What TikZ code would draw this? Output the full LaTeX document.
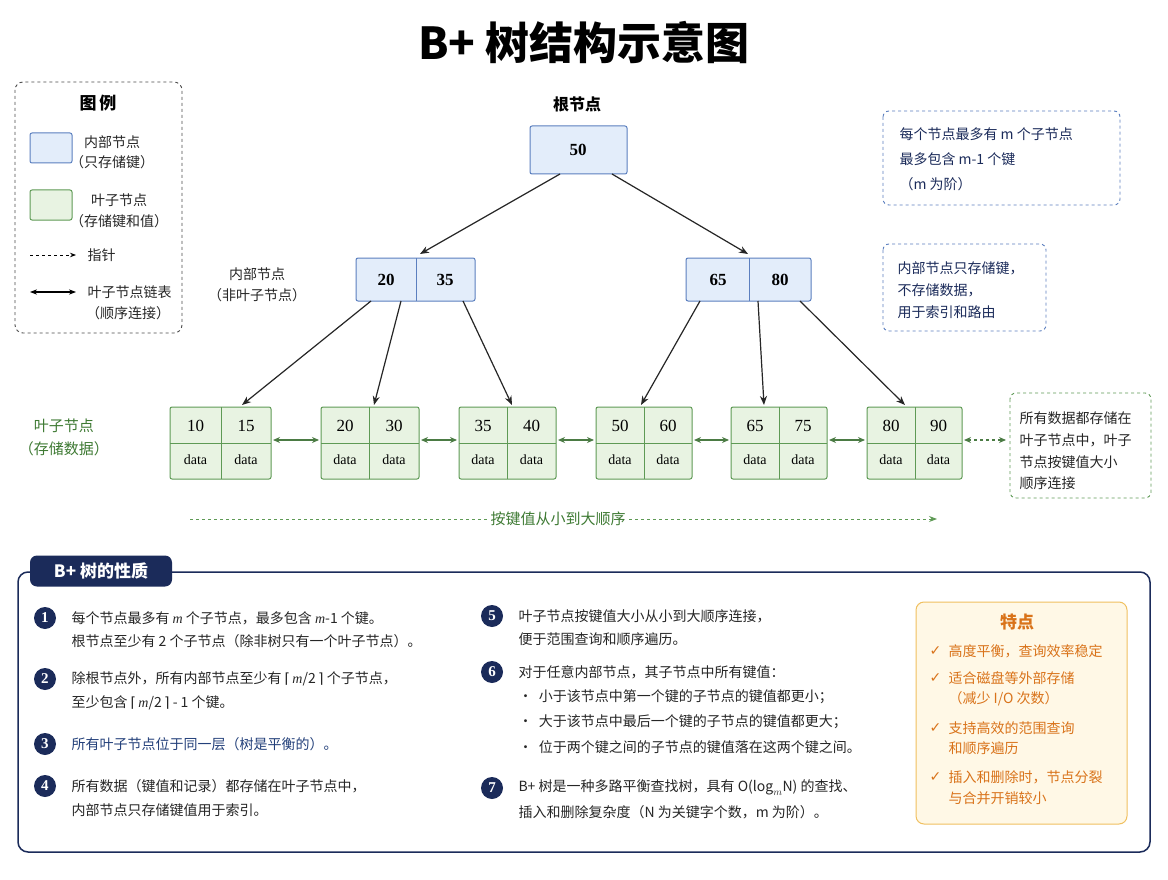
\documentclass[tikz,border=0pt]{standalone}
\usepackage{fontspec}
\setmainfont{Noto Sans CJK SC}
\newfontfamily\serifnum{Liberation Serif}
\newfontfamily\dejavu{DejaVu Sans}
\usetikzlibrary{arrows.meta}
\definecolor{bfill}{HTML}{E3EDFA}
\definecolor{bdraw}{HTML}{5B7FBF}
\definecolor{gfill}{HTML}{E8F3E2}
\definecolor{gdraw}{HTML}{5E9A55}
\definecolor{gtext}{HTML}{3E7A33}
\definecolor{navy}{HTML}{1B2B5A}
\definecolor{otext}{HTML}{D9731A}
\definecolor{ofill}{HTML}{FFF8E6}
\definecolor{odraw}{HTML}{F0C060}
\definecolor{itemblue}{HTML}{23407A}
\newcommand{\mi}{{\serifnum\itshape m}}
\newcommand{\lc}{{\dejavu ⌈}}
\newcommand{\rc}{{\dejavu ⌉}}
\begin{document}
\begin{tikzpicture}[x=1pt,y=-1pt,
  txt/.style={font=\fontsize{14}{16}\selectfont, text=black!85},
  lt/.style={txt,anchor=west},
  key/.style={font=\serifnum\fontsize{17}{19}\selectfont\bfseries},
  dat/.style={font=\serifnum\fontsize{14}{16}\selectfont},
  ib/.style={draw=bdraw,fill=bfill,line width=1pt,rounded corners=2pt},
  lb/.style={draw=gdraw,fill=gfill,line width=1pt,rounded corners=2pt},
  ptr/.style={-{Stealth[length=9pt,width=7pt]},line width=1.2pt,black!85},
  link/.style={{Stealth[length=7pt,width=6pt]}-{Stealth[length=7pt,width=6pt]},line width=1.4pt,gdraw!80!black},
  num/.style={circle,fill=navy,text=white,inner sep=0pt,minimum size=22pt,font=\serifnum\fontsize{15}{15}\selectfont\bfseries},
  chk/.style={anchor=west,text=otext,font=\dejavu\fontsize{14}{16}\selectfont}
]
\useasboundingbox (0,0) rectangle (1168,880);
\fill[white] (0,0) rectangle (1168,880);
% title
\node[font=\fontsize{44}{48}\selectfont\bfseries] (title) at (584,42) {B+ 树结构示意图};
% legend
\draw[dashed,line width=0.9pt,black!70,rounded corners=8pt] (15,82) rectangle (182,333);
\node[font=\fontsize{17}{19}\selectfont\bfseries] (lgt) at (98,103) {图\,例};
\draw[ib] (30,133) rectangle (72,163);
\node[txt] (l1a) at (112,142) {内部节点};
\node[txt] (l1b) at (112,162) {（只存储键）};
\draw[lb] (30,190) rectangle (72,220);
\node[txt] (l2a) at (119,200) {叶子节点};
\node[txt] (l2b) at (119,221) {（存储键和值）};
\coordinate (pa) at (30,255); \coordinate (pb) at (76,255);
\draw[dashed,-{Stealth[length=6pt]},line width=0.9pt] (pa) -- (pb);
\node[lt] (l3) at (84,255) {指针};
\coordinate (da) at (30,292); \coordinate (db) at (76,292);
\draw[{Stealth[length=7pt]}-{Stealth[length=7pt]},line width=1.2pt] (da) -- (db);
\node[lt] (l4a) at (84,292) {叶子节点链表};
\node[txt] (l4b) at (128,313) {（顺序连接）};
% root
\node[font=\fontsize{16}{18}\selectfont\bfseries] (rootl) at (577,104) {根节点};
\draw[ib] (530,126) rectangle (627,174);
\node[key] (root) at (578,150) {50};
% internal nodes
\draw[ib] (356,258) rectangle (475,301); \draw[bdraw,line width=1pt] (416,258) -- (416,301);
\node[key] (i20) at (386,280) {20}; \node[key] (i35) at (445,280) {35};
\draw[ib] (686,258) rectangle (811,301); \draw[bdraw,line width=1pt] (749,258) -- (749,301);
\node[key] (i65) at (718,280) {65}; \node[key] (i80) at (780,280) {80};
\node[txt] (inl1) at (257,274) {内部节点};
\node[txt] (inl2) at (257,295) {（非叶子节点）};
% leaves
\foreach \n/\a/\m/\b/\ka/\kb in {1/170/221/271/10/15, 2/321/369/419/20/30, 3/459/507/556/35/40, 4/596/644/692/50/60, 5/731/779/827/65/75, 6/867/915/962/80/90}{
  \draw[lb] (\a,407) rectangle (\b,479);
  \draw[gdraw,line width=1pt] (\a,443) -- (\b,443) (\m,407) -- (\m,479);
  \node[key,font=\serifnum\fontsize{17}{19}\selectfont] (k\n a) at ({(\a+\m)/2},426) {\ka};
  \node[key,font=\serifnum\fontsize{17}{19}\selectfont] (k\n b) at ({(\m+\b)/2},426) {\kb};
  \node[dat] (d\n a) at ({(\a+\m)/2},460) {data};
  \node[dat] (d\n b) at ({(\m+\b)/2},460) {data};
  \coordinate (leaf\n W) at (\a,440);
  \coordinate (leaf\n E) at (\b,440);
}
\foreach \i/\j in {1/2,2/3,3/4,4/5,5/6}{
  \draw[link,shorten <=2pt,shorten >=2pt] (leaf\i E) -- (leaf\j W);
}
\coordinate (lend) at (1006,440);
\draw[link,dashed,shorten <=2pt] (leaf6E) -- (lend);
\node[txt,text=gtext,font=\fontsize{15}{17}\selectfont] (lfl1) at (64,426) {叶子节点};
\node[txt,text=gtext,font=\fontsize{15}{17}\selectfont] (lfl2) at (64,449) {（存储数据）};
% pointers
\coordinate (r1) at (560,174); \coordinate (r2) at (612,174);
\coordinate (c1) at (420,254); \coordinate (c2) at (748,254);
\draw[ptr] (r1) -- (c1); \draw[ptr] (r2) -- (c2);
\foreach \s/\t [count=\q] in {371/242,401/374,463/512,700/641,758/764,800/905}{
  \coordinate (ps\q) at (\s,301); \coordinate (pt\q) at (\t,405);
  \draw[ptr] (ps\q) -- (pt\q);
}
% notes
\draw[dashed,bdraw,line width=0.9pt,rounded corners=6pt] (883,111) rectangle (1120,205);
\node[lt,text=navy] (n1a) at (896,134) {每个节点最多有 m 个子节点};
\node[lt,text=navy] (n1b) at (896,159) {最多包含 m-1 个键};
\node[lt,text=navy] (n1c) at (896,184) {（m 为阶）};
\draw[dashed,bdraw,line width=0.9pt,rounded corners=6pt] (883,244) rectangle (1046,331);
\node[lt,text=navy] (n2a) at (894,268) {内部节点只存储键，};
\node[lt,text=navy] (n2b) at (894,290) {不存储数据，};
\node[lt,text=navy] (n2c) at (894,312) {用于索引和路由};
\draw[dashed,gdraw,line width=0.9pt,rounded corners=6pt] (1010,393) rectangle (1151,498);
\node[lt] (n3a) at (1016,418) {所有数据都存储在};
\node[lt] (n3b) at (1016,440) {叶子节点中，叶子};
\node[lt] (n3c) at (1016,462) {节点按键值大小};
\node[lt] (n3d) at (1016,483) {顺序连接};
% order arrow
\node[txt,text=gtext,font=\fontsize{15}{17}\selectfont] (ord) at (558,519) {按键值从小到大顺序};
\coordinate (oa) at (190,519); \coordinate (ob) at (937,519);
\draw[dashed,gdraw,line width=1pt] (oa) -- (ord.west);
\draw[dashed,gdraw,line width=1pt,-{Stealth[length=8pt]}] (ord.east) -- (ob);
% properties box
\draw[navy,line width=1.5pt,rounded corners=10pt] (18,572) rectangle (1150,852);
\node[fill=navy,text=white,rounded corners=7pt,minimum width=142pt,minimum height=31pt,font=\fontsize{17}{19}\selectfont\bfseries] (ptab) at (101,571) {B+ 树的性质};
% left column
\node[num] (c1n) at (45,618) {1};
\node[lt] (t1a) at (68,618) {每个节点最多有 \mi\ 个子节点，最多包含 \mi-1 个键。};
\node[lt] (t1b) at (68,641) {根节点至少有 2 个子节点（除非树只有一个叶子节点）。};
\node[num] (c2n) at (45,679) {2};
\node[lt] (t2a) at (68,679) {除根节点外，所有内部节点至少有 \lc\,\mi/2\,\rc\ 个子节点，};
\node[lt] (t2b) at (68,703) {至少包含 \lc\,\mi/2\,\rc\ - 1 个键。};
\node[num] (c3n) at (45,744) {3};
\node[lt,text=itemblue] (t3) at (68,744) {所有叶子节点位于同一层（树是平衡的）。};
\node[num] (c4n) at (45,786) {4};
\node[lt] (t4a) at (68,786) {所有数据（键值和记录）都存储在叶子节点中，};
\node[lt] (t4b) at (68,810) {内部节点只存储键值用于索引。};
% right column
\node[num] (c5n) at (492,616) {5};
\node[lt] (t5a) at (515,616) {叶子节点按键值大小从小到大顺序连接，};
\node[lt] (t5b) at (515,639) {便于范围查询和顺序遍历。};
\node[num] (c6n) at (492,672) {6};
\node[lt] (t6) at (515,672) {对于任意内部节点，其子节点中所有键值：};
\node[lt] (t6a) at (515,697) {•\ \ 小于该节点中第一个键的子节点的键值都更小；};
\node[lt] (t6b) at (515,722) {•\ \ 大于该节点中最后一个键的子节点的键值都更大；};
\node[lt] (t6c) at (515,747) {•\ \ 位于两个键之间的子节点的键值落在这两个键之间。};
\node[num] (c7n) at (492,788) {7};
\node[lt] (t7a) at (515,788) {B+ 树是一种多路平衡查找树，具有 O($\log_{m}$N) 的查找、};
\node[lt] (t7b) at (515,812) {插入和删除复杂度（N 为关键字个数，m 为阶）。};
% features
\draw[odraw,fill=ofill,line width=1pt,rounded corners=8pt] (916,602) rectangle (1127,824);
\node[text=otext,font=\fontsize{17}{19}\selectfont\bfseries] (fh) at (1017,622) {特点};
\foreach \y/\t [count=\q] in {651/高度平衡，查询效率稳定, 678/适合磁盘等外部存储, 728/支持高效的范围查询, 777/插入和删除时，节点分裂}{
  \node[chk] (ck\q) at (926,\y) {✓};
  \node[lt,text=otext] (f\q) at (945,\y) {\t};
}
\node[lt,text=otext] (f2b) at (945,699) {（减少 I/O 次数）};
\node[lt,text=otext] (f3b) at (945,748) {和顺序遍历};
\node[lt,text=otext] (f4b) at (945,798) {与合并开销较小};
\end{tikzpicture}
\end{document}
